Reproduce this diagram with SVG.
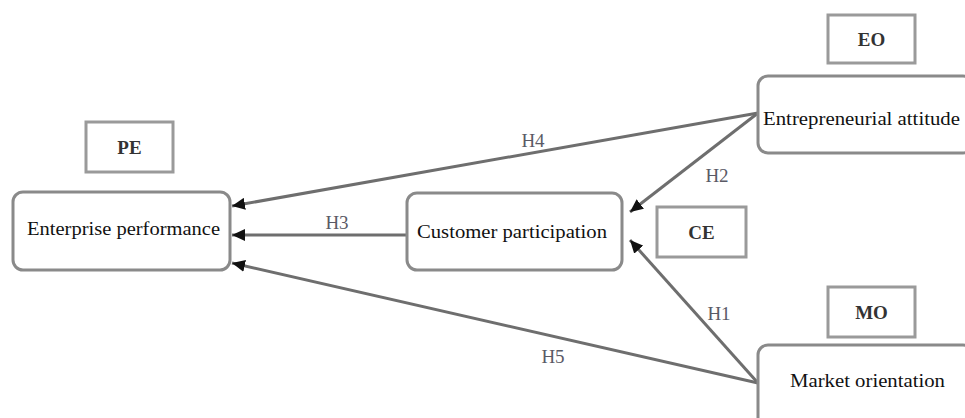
<svg xmlns="http://www.w3.org/2000/svg" width="965" height="418" viewBox="0 0 965 418">
<style>
.node{fill:#fff;stroke:#8a8a8a;stroke-width:3}
.tag{fill:#fff;stroke:#9a9a9a;stroke-width:3}
.nt{font-family:"Liberation Serif","Times New Roman",serif;font-size:18px;fill:#111}
.tt{font-family:"Liberation Serif","Times New Roman",serif;font-size:19px;font-weight:bold;fill:#333;text-anchor:middle}
.lbl{font-family:"Liberation Serif","Times New Roman",serif;font-size:19px;fill:#5a5a66;text-anchor:middle}
.edge{stroke:#6e6e6e;stroke-width:3;fill:none;marker-end:url(#ah)}
</style>
<defs>
<marker id="ah" markerUnits="userSpaceOnUse" markerWidth="14" markerHeight="12" refX="13" refY="6" orient="auto">
<path d="M0,0 L13,6 L0,12 Z" fill="#111"/>
</marker>
</defs>
<rect width="965" height="418" fill="#fff"/>
<g id="connectors">
<line class="edge" x1="758" y1="113" x2="232" y2="206"/>
<line class="edge" x1="758" y1="113" x2="630" y2="212"/>
<line class="edge" x1="407" y1="235" x2="232" y2="235"/>
<line class="edge" x1="758" y1="383" x2="630" y2="240"/>
<line class="edge" x1="758" y1="383" x2="232" y2="263"/>
<text class="lbl" x="533" y="147">H4</text>
<text class="lbl" x="717" y="182">H2</text>
<text class="lbl" x="337" y="229">H3</text>
<text class="lbl" x="719" y="320">H1</text>
<text class="lbl" x="553" y="363">H5</text>
</g>
<g id="PE-tag"><rect class="tag" x="86" y="122" width="87" height="50"/><text class="tt" x="129.5" y="154">PE</text></g>
<g id="EO-tag"><rect class="tag" x="828" y="15" width="87" height="48"/><text class="tt" x="871.5" y="46">EO</text></g>
<g id="CE-tag"><rect class="tag" x="657" y="207" width="89" height="50"/><text class="tt" x="701.5" y="239">CE</text></g>
<g id="MO-tag"><rect class="tag" x="828" y="287" width="87" height="50"/><text class="tt" x="871.5" y="319">MO</text></g>
<g id="PE"><rect class="node" x="13" y="192" width="217" height="78" rx="10"/><text class="nt" x="27" y="235" textLength="193" lengthAdjust="spacingAndGlyphs">Enterprise performance</text></g>
<g id="CP"><rect class="node" x="407" y="193" width="215" height="77" rx="10"/><text class="nt" x="417" y="238" textLength="190" lengthAdjust="spacingAndGlyphs">Customer participation</text></g>
<g id="EO"><rect class="node" x="758" y="76" width="215" height="77" rx="10"/><text class="nt" x="763" y="125" textLength="197" lengthAdjust="spacingAndGlyphs">Entrepreneurial attitude</text></g>
<g id="MO"><rect class="node" x="758" y="345" width="215" height="85" rx="10"/><text class="nt" x="790" y="387" textLength="155" lengthAdjust="spacingAndGlyphs">Market orientation</text></g>
</svg>
